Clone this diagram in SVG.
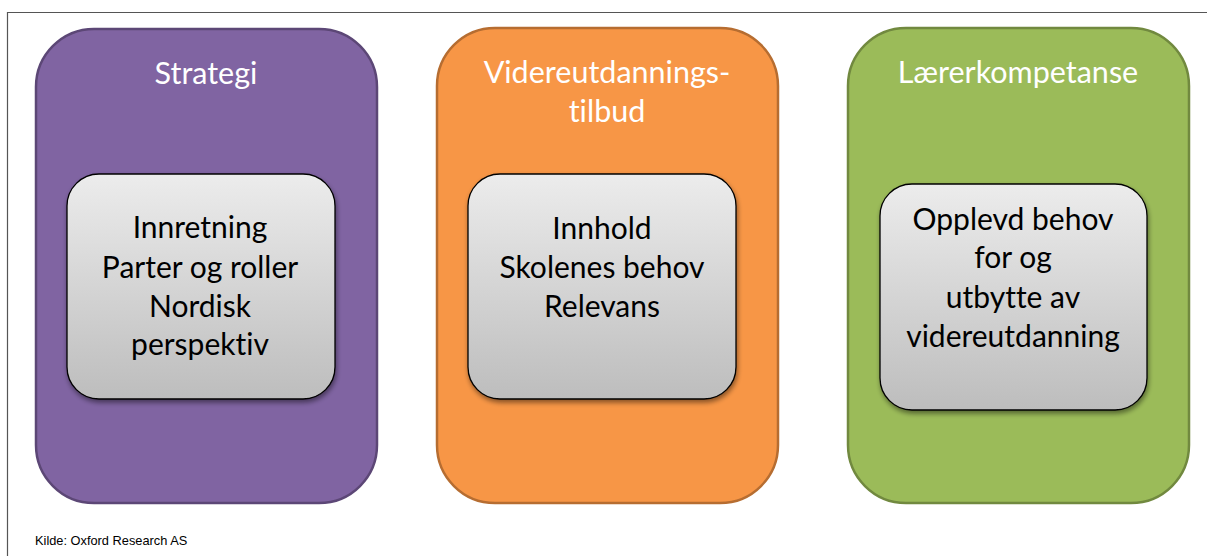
<svg xmlns="http://www.w3.org/2000/svg" width="1207" height="556" viewBox="0 0 1207 556">
<defs>
  <linearGradient id="g" x1="0" y1="0" x2="0" y2="1">
    <stop offset="0" stop-color="#ececec"/>
    <stop offset="1" stop-color="#bdbdbd"/>
  </linearGradient>
  <filter id="sh" x="-10%" y="-10%" width="120%" height="125%">
    <feGaussianBlur in="SourceAlpha" stdDeviation="2.5"/>
    <feOffset dx="1" dy="3" result="b"/>
    <feComponentTransfer><feFuncA type="linear" slope="0.45"/></feComponentTransfer>
    <feMerge><feMergeNode/><feMergeNode in="SourceGraphic"/></feMerge>
  </filter>
</defs>
<style>
  text { font-variant-ligatures: none; font-feature-settings: "liga" 0, "clig" 0, "dlig" 0; }
  .outer { stroke-width: 2.5; }
  .inner { fill: url(#g); stroke: #000; stroke-width: 1.3; filter: url(#sh); }
  .title { font-family: Lato, "Open Sans", "Liberation Sans", sans-serif; font-size: 30.5px; fill: #fff; text-anchor: middle; }
  .body { font-family: Lato, "Open Sans", "Liberation Sans", sans-serif; font-size: 30px; fill: #000; text-anchor: middle; }
  .src { font-family: "Liberation Sans", Arial, sans-serif; font-size: 12.8px; fill: #000; }
</style>
<rect width="1207" height="556" fill="#fff"/>
<path d="M7.5 556 V12.5 H1207" fill="none" stroke="#555" stroke-width="1.2"/>

<g id="strategi">
  <rect class="outer" x="36" y="29" width="341" height="474" rx="58" fill="#8064a2" stroke="#5c4776"/>
  <text class="title" x="206" y="84">Strategi</text>
  <rect class="inner" x="67" y="174" width="268" height="225" rx="32"/>
  <text class="body" x="200" y="238">Innretning</text>
  <text class="body" x="200" y="278">Parter og roller</text>
  <text class="body" x="200" y="317">Nordisk</text>
  <text class="body" x="200" y="355">perspektiv</text>
</g>

<g id="tilbud">
  <rect class="outer" x="437" y="28" width="341" height="475" rx="58" fill="#f79646" stroke="#b66d31"/>
  <text class="title" x="607" y="83">Videreutdannings-</text>
  <text class="title" x="607" y="122">tilbud</text>
  <rect class="inner" x="468" y="174" width="268" height="225" rx="32"/>
  <text class="body" x="602" y="239">Innhold</text>
  <text class="body" x="602" y="278">Skolenes behov</text>
  <text class="body" x="602" y="317">Relevans</text>
</g>

<g id="laererkompetanse">
  <rect class="outer" x="848" y="28" width="341" height="475" rx="58" fill="#9bbb59" stroke="#71893f"/>
  <text class="title" x="1018" y="83">Lærerkompetanse</text>
  <rect class="inner" x="880" y="184" width="267" height="226" rx="32"/>
  <text class="body" x="1013" y="230">Opplevd behov</text>
  <text class="body" x="1013" y="268">for og</text>
  <text class="body" x="1013" y="308">utbytte av</text>
  <text class="body" x="1013" y="347">videreutdanning</text>
</g>

<g id="connectors"></g>

<text class="src" x="35" y="545">Kilde: Oxford Research AS</text>
</svg>
